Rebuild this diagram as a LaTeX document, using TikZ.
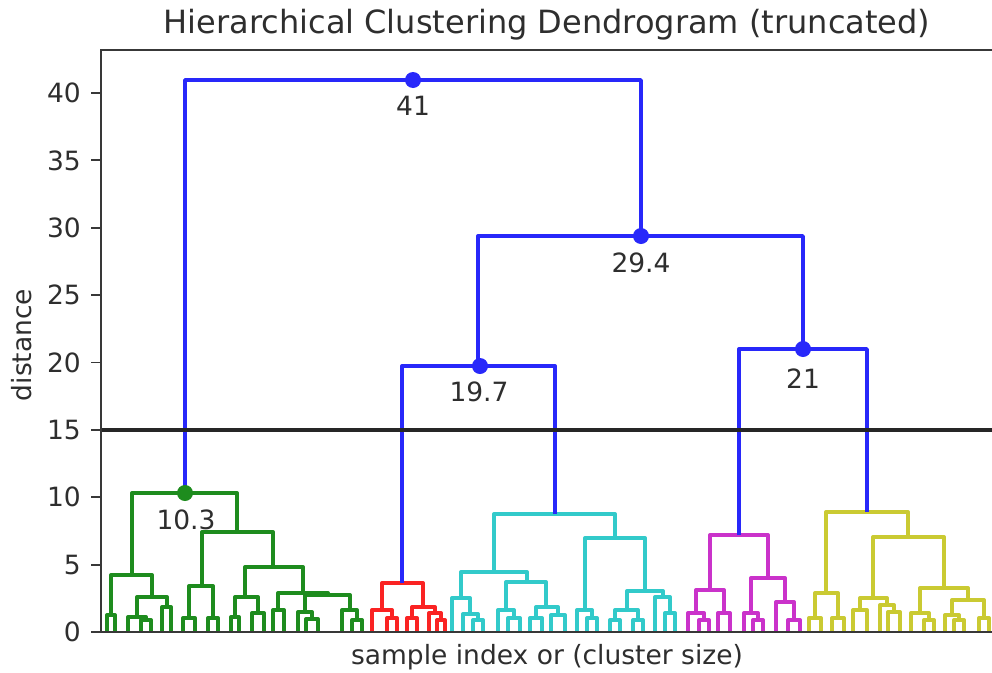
\documentclass[tikz,border=0pt]{standalone}
\usepackage{fontspec}
\setmainfont{DejaVu Sans}
\definecolor{dblue}{RGB}{40,40,250}
\definecolor{dgreen}{RGB}{30,140,30}
\definecolor{dred}{RGB}{250,35,35}
\definecolor{dcyan}{RGB}{50,202,202}
\definecolor{dmag}{RGB}{202,50,202}
\definecolor{dyel}{RGB}{202,202,50}
\tikzset{
  lnk/.style={line width=3.4pt, line join=round},
  spine/.style={line width=1.8pt, black!78},
  txt/.style={font=\fontsize{26.5}{29}\selectfont, text=black!82, inner sep=0pt},
  mdot/.style={circle, fill=#1, inner sep=0pt, minimum size=16pt},
}
% one dendrogram link: colour, left x, left child y, right x, right child y, bar y
\newcommand\dlink[6]{\draw[lnk,#1] (#2,#3) -- (#2,#6) -- (#4,#6) -- (#4,#5);}
\begin{document}
\begin{tikzpicture}[x=1pt,y=-1pt]
\useasboundingbox (0,0) rectangle (992,672);
\fill[white] (0,0) rectangle (992,672);

% ---- green cluster
\dlink{dgreen}{132}{575}{237}{532}{493}
\dlink{dgreen}{111}{615}{152}{597}{575}
\dlink{dgreen}{107}{632}{115}{632}{615}
\dlink{dgreen}{137}{617}{167}{607}{597}
\dlink{dgreen}{128}{632}{146}{620}{617}
\dlink{dgreen}{141}{632}{151}{632}{620}
\dlink{dgreen}{162}{632}{171}{632}{607}
\dlink{dgreen}{202}{586}{273}{567}{532}
\dlink{dgreen}{189}{618}{213}{618}{586}
\dlink{dgreen}{183}{632}{195}{632}{618}
\dlink{dgreen}{208}{632}{218}{632}{618}
\dlink{dgreen}{245}{597}{303}{593}{567}
\dlink{dgreen}{235}{617}{258}{613}{597}
\dlink{dgreen}{231}{632}{239}{632}{617}
\dlink{dgreen}{252}{632}{264}{632}{613}
\dlink{dgreen}{278}{610}{328}{595}{593}
\dlink{dgreen}{305}{612}{350}{610}{595}
\dlink{dgreen}{273}{632}{284}{632}{610}
\dlink{dgreen}{298}{632}{312}{619}{612}
\dlink{dgreen}{306}{632}{318}{632}{619}
\dlink{dgreen}{342}{632}{357}{620}{610}
\dlink{dgreen}{352}{632}{362}{632}{620}

% ---- red cluster
\dlink{dred}{382}{610}{423}{607}{583}
\dlink{dred}{372}{632}{392}{618}{610}
\dlink{dred}{387}{632}{397}{632}{618}
\dlink{dred}{412}{618}{435}{613}{607}
\dlink{dred}{407}{632}{417}{632}{618}
\dlink{dred}{429}{632}{441}{620}{613}
\dlink{dred}{437}{632}{445}{632}{620}

% ---- cyan cluster
\dlink{dcyan}{494}{572}{615}{538}{514}
\dlink{dcyan}{461}{598}{527}{582}{572}
\dlink{dcyan}{452}{632}{470}{614}{598}
\dlink{dcyan}{463}{632}{478}{620}{614}
\dlink{dcyan}{473}{632}{483}{632}{620}
\dlink{dcyan}{506}{610}{546}{607}{582}
\dlink{dcyan}{498}{632}{514}{618}{610}
\dlink{dcyan}{508}{632}{520}{632}{618}
\dlink{dcyan}{536}{618}{558}{615}{607}
\dlink{dcyan}{530}{632}{542}{632}{618}
\dlink{dcyan}{551}{632}{565}{632}{615}
\dlink{dcyan}{585}{610}{645}{591}{538}
\dlink{dcyan}{577}{632}{592}{618}{610}
\dlink{dcyan}{587}{632}{597}{632}{618}
\dlink{dcyan}{627}{610}{663}{597}{591}
\dlink{dcyan}{615}{620}{638}{620}{610}
\dlink{dcyan}{610}{632}{620}{632}{620}
\dlink{dcyan}{633}{632}{643}{632}{620}
\dlink{dcyan}{655}{632}{670}{613}{597}
\dlink{dcyan}{665}{632}{675}{632}{613}

% ---- magenta cluster
\dlink{dmag}{710}{590}{768}{578}{535}
\dlink{dmag}{696}{613}{724}{613}{590}
\dlink{dmag}{688}{632}{704}{620}{613}
\dlink{dmag}{699}{632}{709}{632}{620}
\dlink{dmag}{718}{632}{730}{632}{613}
\dlink{dmag}{751}{613}{785}{602}{578}
\dlink{dmag}{744}{632}{758}{620}{613}
\dlink{dmag}{753}{632}{763}{632}{620}
\dlink{dmag}{776}{632}{794}{620}{602}
\dlink{dmag}{788}{632}{800}{632}{620}

% ---- yellow cluster
\dlink{dyel}{826}{593}{908}{537}{512}
\dlink{dyel}{815}{618}{838}{618}{593}
\dlink{dyel}{809}{632}{821}{632}{618}
\dlink{dyel}{832}{632}{844}{632}{618}
\dlink{dyel}{873}{598}{944}{588}{537}
\dlink{dyel}{860}{610}{887}{605}{598}
\dlink{dyel}{853}{632}{867}{632}{610}
\dlink{dyel}{880}{632}{894}{612}{605}
\dlink{dyel}{888}{632}{900}{632}{612}
\dlink{dyel}{920}{613}{968}{600}{588}
\dlink{dyel}{911}{632}{929}{620}{613}
\dlink{dyel}{924}{632}{934}{632}{620}
\dlink{dyel}{952}{615}{984}{618}{600}
\dlink{dyel}{945}{632}{959}{620}{615}
\dlink{dyel}{954}{632}{964}{632}{620}
\dlink{dyel}{979}{632}{989}{632}{618}

% ---- upper (blue) links
\dlink{dblue}{185}{493}{641}{236}{80}
\dlink{dblue}{478}{366}{803}{349}{236}
\dlink{dblue}{402}{583}{555}{514}{366}
\dlink{dblue}{739}{535}{867}{512}{349}

% ---- cut-off line at distance 15
\draw[line width=3.2pt, black!85] (101,430) -- (992,430);

% ---- axes frame and ticks
\draw[spine] (992,50) -- (101,50) -- (101,632) -- (992,632);
\foreach \v in {0,5,...,40} {
  \pgfmathsetmacro\yy{632-13.475*\v}
  \draw[spine] (91,\yy) -- (101,\yy);
  \node[txt, anchor=east] at (81,\yy) {\v};
}

% ---- merge markers and their heights
\node[mdot=dblue]  (m41) at (413,80) {};
\node[mdot=dblue]  (m29) at (641,236) {};
\node[mdot=dblue]  (m19) at (480,366) {};
\node[mdot=dblue]  (m21) at (803,349) {};
\node[mdot=dgreen] (m10) at (185,493) {};
\node[txt] (l41) at (413,106) {41};
\node[txt] (l29) at (641,263) {29.4};
\node[txt] (l19) at (479,392) {19.7};
\node[txt] (l21) at (803,379) {21};
\node[txt] (l10) at (186,520) {10.3};

% ---- titles
\node[txt, font=\fontsize{32}{35}\selectfont] (title) at (547,25) {Hierarchical Clustering Dendrogram (truncated)};
\node[txt] (xlab) at (547,657) {sample index or (cluster size)};
\node[txt, rotate=90] (ylab) at (22,345) {distance};
\end{tikzpicture}
\end{document}
